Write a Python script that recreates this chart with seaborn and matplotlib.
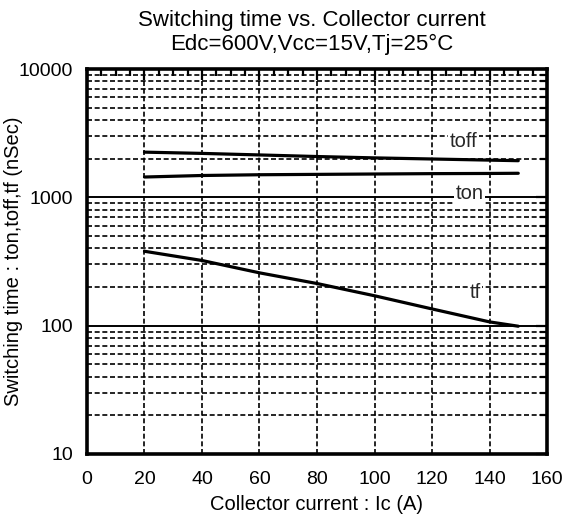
import pandas as pd
import seaborn as sns
import matplotlib.pyplot as plt
from matplotlib.ticker import FixedLocator, NullFormatter

# 数据
ic = [20, 40, 60, 80, 100, 120, 140, 150]
toff = [2250, 2200, 2140, 2080, 2030, 1990, 1950, 1930]
ton = [1440, 1480, 1500, 1510, 1520, 1530, 1535, 1540]
tf = [380, 322, 258, 213, 171, 135, 107, 99]

df = pd.DataFrame({"Ic": ic, "toff": toff, "ton": ton, "tf": tf})
dfm = df.melt("Ic", var_name="curve", value_name="t")

sns.set_theme(style="white")
plt.rcParams['font.family'] = ['Liberation Sans', 'DejaVu Sans']

fig = plt.figure(figsize=(5.63, 5.17), dpi=100)
ax = fig.add_axes([0.1545, 0.1219, 0.8171, 0.7446])

sns.lineplot(data=dfm, x="Ic", y="t", hue="curve",
             palette=["black", "black", "black"],
             linewidth=2.3, legend=False, ax=ax, zorder=5)

ax.set_yscale('log')
ax.set_xlim(0, 160)
ax.set_ylim(10, 10000)

# 刻度
ax.set_xticks(range(0, 161, 20))
ax.xaxis.set_minor_locator(FixedLocator(range(0, 161, 5)))
ax.set_yticks([10, 100, 1000, 10000])
ax.set_yticklabels(["10", "100", "1000", "10000"])
minors = [m * 10 ** d for d in range(1, 4) for m in range(2, 10)]
ax.yaxis.set_minor_locator(FixedLocator(minors))
ax.yaxis.set_minor_formatter(NullFormatter())

ax.tick_params(which='both', direction='in', top=True, right=True,
               color='black', labelsize=14, labelcolor='black')
ax.tick_params(which='major', length=8, width=1.6)
ax.tick_params(which='minor', length=5, width=1.6)
ax.tick_params(axis='x', pad=12)
ax.tick_params(axis='y', pad=10)

# 网格线
ax.grid(axis='y', which='major', color='black', linestyle='-', linewidth=1.4)
ax.grid(axis='y', which='minor', color='black', linestyle=(0, (3, 1.6)), linewidth=1.2)
ax.grid(axis='x', which='major', color='black', linestyle=(0, (3, 1.6)), linewidth=1.2)

for s in ax.spines.values():
    s.set_color('black')
    s.set_linewidth(2.6)
    s.set_zorder(6)

# 曲线标注
box = dict(facecolor='white', edgecolor='none', pad=1)
ax.text(131, 2740, "toff", fontsize=14.5, ha='center', va='center', bbox=box, zorder=4)
ax.text(133, 1075, "ton", fontsize=14.5, ha='center', va='center', bbox=box, zorder=4)
ax.text(135, 181, "tf", fontsize=14.5, ha='center', va='center', bbox=box, zorder=4)

ax.set_title("Switching time vs. Collector current\nEdc=600V,Vcc=15V,Tj=25°C",
             fontsize=16, color='black', pad=13.5, linespacing=1.2, x=0.489)
ax.set_xlabel("Collector current : Ic (A)", fontsize=14.5, color='black', labelpad=5)
ax.set_ylabel("Switching time : ton,toff,tf (nSec)", fontsize=14.5, color='black')
ax.yaxis.set_label_coords(-0.139, 0.5)

plt.savefig("out.png", dpi=100)
plt.close()
